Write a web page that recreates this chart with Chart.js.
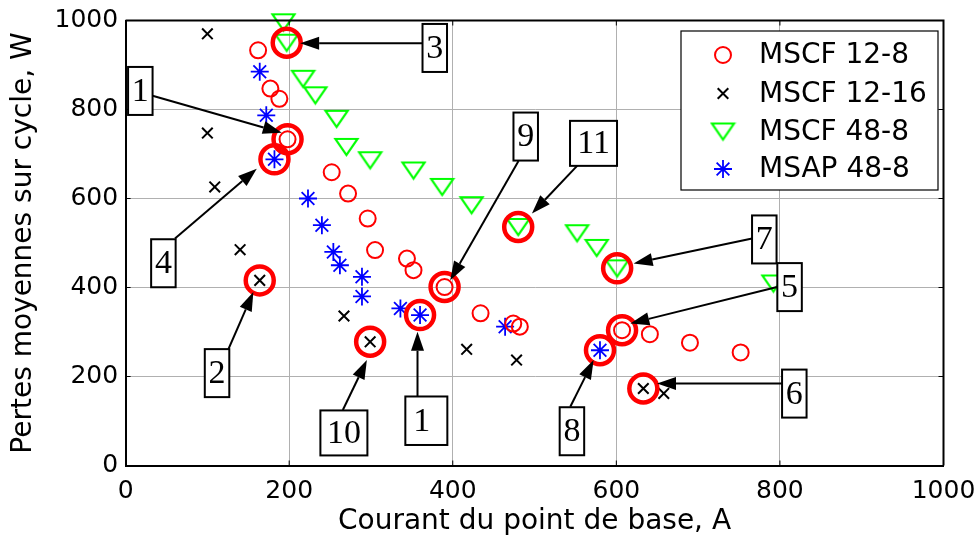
<!DOCTYPE html>
<html><head><meta charset="utf-8">
<script src="https://cdn.jsdelivr.net/npm/chart.js@4/dist/chart.umd.min.js"></script>
<style>html,body{margin:0;padding:0;background:#fff;}canvas{display:block;}</style>
</head><body>
<canvas id="c" width="978" height="541"></canvas>
<script>
// ---------- data ----------
const xTicks = [0, 200, 400, 600, 800, 1000];
const yTicks = [0, 200, 400, 600, 800, 1000];
const xTitle = 'Courant du point de base, A';
const yTitle = 'Pertes moyennes sur cycle, W';
const seriesNames = ['MSCF 12-8', 'MSCF 12-16', 'MSCF 48-8', 'MSAP 48-8'];

const mscf128X = [162, 177, 188, 198, 252, 272, 296, 305, 344, 352, 390, 434, 474, 482, 607, 641, 690, 752];
const mscf128Y = [933, 847, 824, 733, 659, 611, 555, 484, 465, 439, 401, 342, 319, 312, 304, 295, 276, 254];

const mscf1216X = [100, 100, 109, 140, 164, 267, 299, 417, 478, 633, 658];
const mscf1216Y = [970, 747, 626, 485, 416, 336, 278, 261, 237, 173, 162];

const mscf488X = [193, 197, 217, 232, 258, 270, 299, 352, 387, 423, 480, 552, 576, 601, 792];
const mscf488Y = [996, 950, 869, 832, 779, 716, 686, 663, 626, 585, 536, 522, 489, 443, 409];

const msap488X = [164, 172, 182, 223, 240, 254, 262, 289, 289, 336, 360, 464, 580];
const msap488Y = [885, 787, 688, 600, 540, 480, 450, 424, 380, 353, 338, 312, 259];

// highlighted operating points: [series index, point index]
const highlightSeries = [2, 0, 3, 1, 1, 3, 0, 2, 2, 0, 3, 1];
const highlightIndex  = [1, 3, 2, 4, 6, 10, 10, 10, 13, 14, 12, 9];

// callout labels (box centre, arrow start and arrow tip in data units)
const calloutText = ['3', '1', '4', '2', '10', '1', '9', '11', '7', '5', '6', '8'];
const calloutBox  = [[378,938.3],[18,841.7],[46.2,454.5],[111.8,207.6],[266.9,73.2],[367.7,100.6],[489.2,739.2],[572.1,723.9],[780.9,508],[811.8,400.9],[817.6,161.6],[545.7,77]];
const calloutFrom = [[362.6,949],[31.9,831.4],[60.4,510],[125.6,260.8],[265.6,124.6],[356.9,156],[480.4,684.2],[552.6,674.5],[766,510],[796.5,401.3],[802.7,184.5],[543.7,132]];
const calloutTo   = [[213.4,949],[191,747.9],[160.4,667.1],[156.2,390.1],[295,236.8],[356.9,300.3],[396.9,416.4],[496.8,566.1],[621.1,453.9],[617.1,319.2],[649.7,184.5],[572.2,236.8]];

// ---------- styles ----------
function triangleMarker() {
  const c = document.createElement('canvas');
  c.width = 27; c.height = 22;
  const g = c.getContext('2d');
  g.strokeStyle = '#00ff00'; g.lineWidth = 2.2; g.lineJoin = 'miter';
  g.beginPath(); g.moveTo(2.5, 3); g.lineTo(24.5, 3); g.lineTo(13.5, 19); g.closePath(); g.stroke();
  return c;
}
const triImg = triangleMarker();

const styles = [
  {pointStyle: 'circle', radius: 8, borderWidth: 2, color: '#ff0000'},
  {pointStyle: 'crossRot', radius: 7.5, borderWidth: 2, color: '#000000'},
  {pointStyle: triImg, radius: 11, borderWidth: 0, color: '#00ff00'},
  {pointStyle: 'star', radius: 9, borderWidth: 1.8, color: '#0000ff'}
];
const seriesX = [mscf128X, mscf1216X, mscf488X, msap488X];
const seriesY = [mscf128Y, mscf1216Y, mscf488Y, msap488Y];

const datasets = seriesNames.map((name, i) => ({
  label: name,
  data: seriesX[i].map((x, k) => ({x: x, y: seriesY[i][k]})),
  pointStyle: styles[i].pointStyle,
  pointRadius: styles[i].radius,
  pointBorderWidth: styles[i].borderWidth,
  pointBorderColor: styles[i].color,
  pointBackgroundColor: 'rgba(0,0,0,0)',
  showLine: false,
  clip: false,
  order: 2
}));
datasets.push({
  label: 'highlight',
  data: highlightSeries.map((s, k) => ({x: seriesX[s][highlightIndex[k]], y: seriesY[s][highlightIndex[k]]})),
  pointStyle: 'circle',
  pointRadius: 14,
  pointBorderWidth: 4.5,
  pointBorderColor: '#ff0000',
  pointBackgroundColor: 'rgba(0,0,0,0)',
  showLine: false,
  clip: false,
  order: 1
});

// ---------- plugins ----------
function drawMarker(ctx, st, x, y) {
  ctx.save();
  ctx.strokeStyle = st.color; ctx.fillStyle = 'rgba(0,0,0,0)'; ctx.lineWidth = st.borderWidth;
  if (Chart.helpers && Chart.helpers.drawPoint) {
    Chart.helpers.drawPoint(ctx, {pointStyle: st.pointStyle, rotation: 0, radius: st.radius, borderWidth: st.borderWidth}, x, y);
  } else if (typeof st.pointStyle === 'object') {
    ctx.drawImage(st.pointStyle, x - st.pointStyle.width / 2, y - st.pointStyle.height / 2);
  }
  ctx.restore();
}

const framePlugin = {
  id: 'frame',
  afterDatasetsDraw(chart) {
    const ctx = chart.ctx, a = chart.chartArea;
    const xs = chart.scales.x, ys = chart.scales.y;
    ctx.save();
    ctx.strokeStyle = '#000'; ctx.lineWidth = 2;
    ctx.beginPath();
    ctx.moveTo(a.left, a.top); ctx.lineTo(a.right, a.top); ctx.lineTo(a.right, a.bottom);
    ctx.stroke();
    ctx.lineWidth = 1;
    ctx.beginPath();
    xTicks.forEach(v => { const px = xs.getPixelForValue(v);
      ctx.moveTo(px, a.bottom); ctx.lineTo(px, a.bottom - 5);
      ctx.moveTo(px, a.top); ctx.lineTo(px, a.top + 5); });
    yTicks.forEach(v => { const py = ys.getPixelForValue(v);
      ctx.moveTo(a.left, py); ctx.lineTo(a.left + 5, py);
      ctx.moveTo(a.right, py); ctx.lineTo(a.right - 5, py); });
    ctx.stroke();

    // callout arrows
    ctx.strokeStyle = '#000'; ctx.fillStyle = '#000'; ctx.lineWidth = 2;
    calloutText.forEach((t, i) => {
      const x1 = xs.getPixelForValue(calloutFrom[i][0]), y1 = ys.getPixelForValue(calloutFrom[i][1]);
      const x2 = xs.getPixelForValue(calloutTo[i][0]), y2 = ys.getPixelForValue(calloutTo[i][1]);
      const ang = Math.atan2(y2 - y1, x2 - x1);
      const L = 19, W = 6.5;
      const bx = x2 - L * Math.cos(ang), by = y2 - L * Math.sin(ang);
      ctx.beginPath(); ctx.moveTo(x1, y1); ctx.lineTo(bx, by); ctx.stroke();
      ctx.beginPath();
      ctx.moveTo(x2, y2);
      ctx.lineTo(bx + W * Math.sin(ang), by - W * Math.cos(ang));
      ctx.lineTo(bx - W * Math.sin(ang), by + W * Math.cos(ang));
      ctx.closePath(); ctx.fill();
    });
    // callout boxes
    ctx.font = '34px "Liberation Serif", "Times New Roman", serif';
    ctx.textBaseline = 'middle';
    calloutText.forEach((t, i) => {
      const cx = xs.getPixelForValue(calloutBox[i][0]), cy = ys.getPixelForValue(calloutBox[i][1]);
      let w = t.length > 1 ? 47 : 24.5, h = t.length > 1 ? 45 : 48;
      let tx = cx, align = 'center';
      if (i === 5) { w = 42; h = 48.5; tx = cx - w / 2 + 8; align = 'left'; }
      ctx.fillStyle = '#fff';
      ctx.fillRect(cx - w / 2, cy - h / 2, w, h);
      ctx.lineWidth = 2; ctx.strokeStyle = '#000';
      ctx.strokeRect(cx - w / 2, cy - h / 2, w, h);
      ctx.fillStyle = '#000'; ctx.textAlign = align;
      ctx.fillText(t, tx, cy + 1);
    });
    ctx.restore();
  },
  afterDraw(chart) {
    const ctx = chart.ctx;
    ctx.save();
    const L = 681, T = 31, R = 938, B = 190;
    ctx.fillStyle = '#fff'; ctx.fillRect(L, T, R - L, B - T);
    ctx.strokeStyle = '#000'; ctx.lineWidth = 1.2; ctx.strokeRect(L, T, R - L, B - T);
    const rows = [55, 93.5, 131.5, 169];
    ctx.font = '28px "DejaVu Sans"'; ctx.textBaseline = 'middle'; ctx.textAlign = 'left';
    seriesNames.forEach((n, i) => {
      drawMarker(ctx, styles[i], 723, rows[i]);
      ctx.fillStyle = '#000';
      ctx.fillText(n, 759, rows[i] + 1);
    });
    ctx.restore();
  }
};

// ---------- chart ----------
const tickFont = {family: 'DejaVu Sans', size: 25};
const titleFont = {family: 'DejaVu Sans', size: 28};
new Chart(document.getElementById('c'), {
  type: 'scatter',
  data: {datasets: datasets},
  options: {
    responsive: false,
    animation: false,
    devicePixelRatio: 1,
    layout: {padding: {left: 0, right: 34.5, top: 20.5, bottom: 0}},
    plugins: {legend: {display: false}, tooltip: {enabled: false}},
    scales: {
      x: {
        type: 'linear', min: 0, max: 1000,
        afterBuildTicks: s => { s.ticks = xTicks.map(v => ({value: v})); },
        afterFit: s => { s.height = 75.5; s.paddingLeft = 0; s.paddingRight = 0; },
        ticks: {font: tickFont, color: '#000', padding: 11, maxRotation: 0, autoSkip: false, callback: v => String(v)},
        grid: {color: '#b0b0b0', lineWidth: 1, drawTicks: false},
        border: {display: true, color: '#000', width: 2},
        title: {display: true, text: xTitle, font: titleFont, color: '#000', padding: {top: 0, bottom: 2}}
      },
      y: {
        type: 'linear', min: 0, max: 1000,
        afterBuildTicks: s => { s.ticks = yTicks.map(v => ({value: v})); },
        afterFit: s => { s.width = 125.6; s.paddingTop = 0; s.paddingBottom = 0; },
        ticks: {font: tickFont, color: '#000', padding: 7.5, autoSkip: false, callback: v => String(v)},
        grid: {color: '#b0b0b0', lineWidth: 1, drawTicks: false},
        border: {display: true, color: '#000', width: 2},
        title: {display: true, text: yTitle, font: titleFont, color: '#000', padding: {top: 6.5, bottom: 0}}
      }
    }
  },
  plugins: [framePlugin]
});
</script>
</body></html>
